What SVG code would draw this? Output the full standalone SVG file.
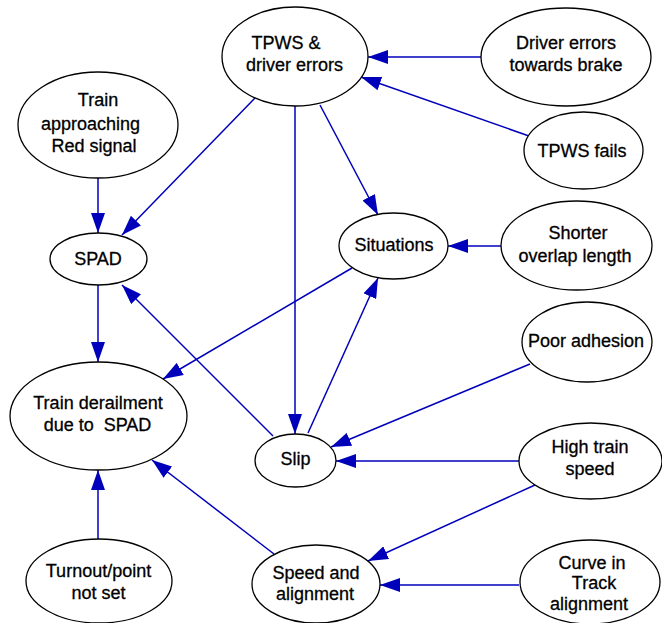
<svg xmlns="http://www.w3.org/2000/svg" width="662" height="623" viewBox="0 0 662 623">
  <style>
    .node ellipse { fill: #ffffff; stroke: #000000; stroke-width: 1.3; }
    .node text { font-family: "Liberation Sans", Arial, sans-serif; font-size: 18px; fill: #000000; stroke: #000000; stroke-width: 0.3; text-anchor: middle; white-space: pre; }
    .edge { stroke: #0000bb; stroke-width: 1.5; fill: none; marker-end: url(#arrow); }
  </style>
  <defs>
    <marker id="arrow" markerUnits="userSpaceOnUse" markerWidth="20" markerHeight="14" refX="20" refY="7" orient="auto">
      <path d="M0,0 L20,7 L0,14 z" fill="#0000bb"/>
    </marker>
  </defs>
  <rect width="662" height="623" fill="#ffffff"/>

  <!-- connectors -->
  <g id="edges">
    <path class="edge" d="M481,57 L368,57"/>
    <path class="edge" d="M529,136 L361,77"/>
    <path class="edge" d="M98,178 L98,233"/>
    <path class="edge" d="M255,98 L122,235"/>
    <path class="edge" d="M295,106 L295,434"/>
    <path class="edge" d="M320,105 L378,215"/>
    <path class="edge" d="M501,246 L448,246"/>
    <path class="edge" d="M98,285 L98,362"/>
    <path class="edge" d="M352,268 L163,379"/>
    <path class="edge" d="M273,436 L122,285"/>
    <path class="edge" d="M308,433 L378,278"/>
    <path class="edge" d="M530,364 L331,447"/>
    <path class="edge" d="M519,461 L336,461"/>
    <path class="edge" d="M535,485 L368,561"/>
    <path class="edge" d="M519,585 L380,585"/>
    <path class="edge" d="M274,554 L152,460"/>
    <path class="edge" d="M98,541 L98,470"/>
  </g>

  <!-- nodes -->
  <g id="tpws-driver-errors" class="node">
    <ellipse cx="295" cy="56.5" rx="73" ry="49.5"/>
    <text x="286" y="48.5">TPWS &amp;</text>
    <text x="294.5" y="70.5">driver errors</text>
  </g>
  <g id="driver-errors-brake" class="node">
    <ellipse cx="566" cy="57" rx="85" ry="49"/>
    <text x="566" y="48.5">Driver errors</text>
    <text x="566" y="70.5">towards brake</text>
  </g>
  <g id="tpws-fails" class="node">
    <ellipse cx="583.5" cy="150.5" rx="59.5" ry="38.5"/>
    <text x="582" y="156.5">TPWS fails</text>
  </g>
  <g id="train-approaching" class="node">
    <ellipse cx="98" cy="125" rx="80" ry="53"/>
    <text x="98" y="105.5">Train</text>
    <text x="90.5" y="129.5">approaching</text>
    <text x="94" y="151.5">Red signal</text>
  </g>
  <g id="spad" class="node">
    <ellipse cx="98.5" cy="259" rx="48.5" ry="26"/>
    <text x="98" y="264.5">SPAD</text>
  </g>
  <g id="situations" class="node">
    <ellipse cx="393.5" cy="246" rx="54.5" ry="33"/>
    <text x="394" y="250.5">Situations</text>
  </g>
  <g id="shorter-overlap" class="node">
    <ellipse cx="576.5" cy="245.5" rx="75.5" ry="44.5"/>
    <text x="578" y="238.5">Shorter</text>
    <text x="575" y="261.5">overlap length</text>
  </g>
  <g id="train-derailment" class="node">
    <ellipse cx="98.5" cy="416" rx="88.5" ry="54"/>
    <text x="98" y="408.5">Train derailment</text>
    <text x="97.5" y="430.5">due to  SPAD</text>
  </g>
  <g id="slip" class="node">
    <ellipse cx="295.5" cy="460.5" rx="40.5" ry="26.5"/>
    <text x="295.5" y="464.5">Slip</text>
  </g>
  <g id="poor-adhesion" class="node">
    <ellipse cx="587" cy="342" rx="65" ry="40"/>
    <text x="586" y="346.5">Poor adhesion</text>
  </g>
  <g id="high-train-speed" class="node">
    <ellipse cx="590.5" cy="461" rx="71.5" ry="38"/>
    <text x="590" y="452.5">High train</text>
    <text x="590" y="474.5">speed</text>
  </g>
  <g id="turnout" class="node">
    <ellipse cx="99" cy="581" rx="73" ry="42"/>
    <text x="98.5" y="576.5">Turnout/point</text>
    <text x="98.5" y="598.5">not set</text>
  </g>
  <g id="speed-alignment" class="node">
    <ellipse cx="316" cy="584" rx="64" ry="39"/>
    <text x="316" y="578.5">Speed and</text>
    <text x="315" y="599.5">alignment</text>
  </g>
  <g id="curve-track" class="node">
    <ellipse cx="590" cy="582" rx="70" ry="42"/>
    <text x="592" y="568.5">Curve in</text>
    <text x="594" y="588.5">Track</text>
    <text x="589" y="609.5">alignment</text>
  </g>
</svg>
